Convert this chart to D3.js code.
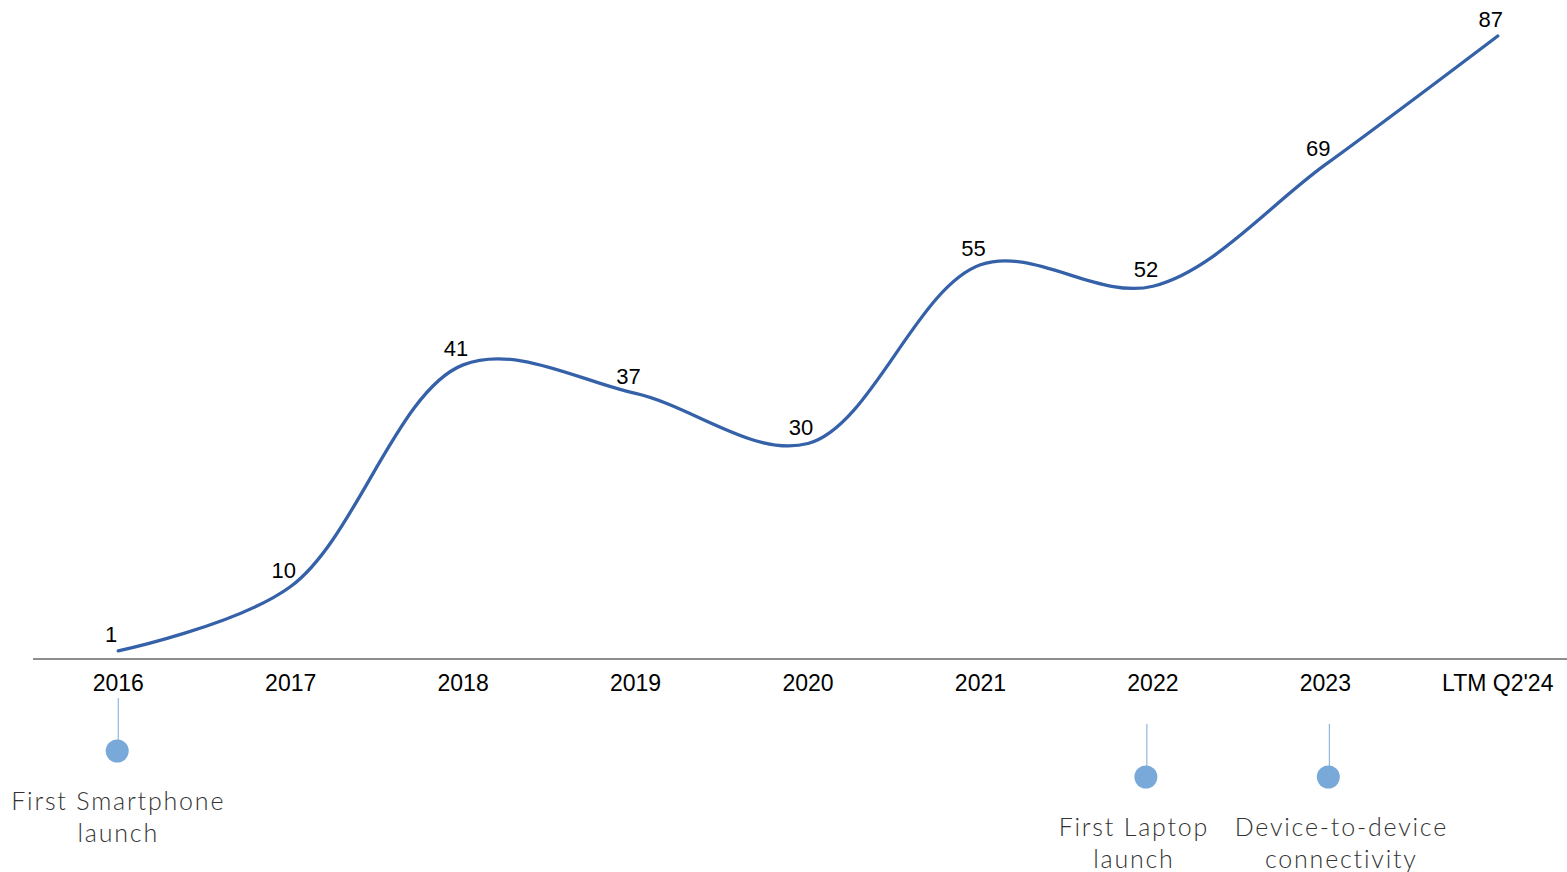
<!DOCTYPE html>
<html>
<head>
<meta charset="utf-8">
<script src="https://cdn.jsdelivr.net/npm/d3@7"></script>
<style>
  body { margin: 0; background: #fff; }
  svg { display: block; }
  .axis path { stroke: #1a1a1a; }
  .axis text { font-family: "Liberation Sans", Arial, sans-serif; font-size: 23px; fill: #000; }
</style>
</head>
<body>
<div id="chart"></div>
<script>
var categories = ['2016', '2017', '2018', '2019', '2020', '2021', '2022', '2023', "LTM Q2'24"];
var values = [1, 10, 41, 37, 30, 55, 52, 69, 87];

// milestones hung under the axis
var milestoneCats = ['2016', '2022', '2023'];
var milestoneText = [['First Smartphone', 'launch'], ['First Laptop', 'launch'], ['Device-to-device', 'connectivity']];

var width = 1567, height = 872;

var svg = d3.select('#chart')
  .append('svg')
  .attr('width', width)
  .attr('height', height);

var x = d3.scaleBand()
  .domain(categories)
  .range([32, 1584]);

var y = d3.scaleLinear()
  .domain([0, 87])
  .range([658, 36]);

var cx = function(c) { return x(c) + x.bandwidth() / 2; };

// axis
var axis = svg.append('g')
  .attr('class', 'axis')
  .attr('transform', 'translate(0,659)')
  .call(d3.axisBottom(x).tickSize(0).tickPadding(16));
axis.select('.domain').attr('d', 'M33,0H1567');

// smooth line, like the excel one
var line = d3.line()
  .x(function(d, i) { return cx(categories[i]); })
  .y(function(d) { return y(d); })
  .curve(d3.curveCatmullRom.alpha(0.5));

svg.append('path')
  .datum(values)
  .attr('fill', 'none')
  .attr('stroke', '#3561a9')
  .attr('stroke-width', 3.3)
  .attr('stroke-linecap', 'round')
  .attr('d', line);

svg.append('g').selectAll('text')
  .data(values)
  .enter()
  .append('text')
  .attr('x', function(d, i) { return cx(categories[i]) - 7; })
  .attr('y', function(d) { return y(d) - 9; })
  .attr('text-anchor', 'middle')
  .attr('font-family', '"Liberation Sans", Arial, sans-serif')
  .attr('font-size', 22)
  .attr('fill', '#000')
  .text(function(d) { return d; });

// milestones
var ms = svg.append('g').selectAll('g')
  .data(milestoneCats)
  .enter()
  .append('g')
  .attr('transform', function(c, i) {
    var shift = i === 0 ? 0 : (i === 1 ? -6 : 4);
    return 'translate(' + (cx(c) + shift) + ',0)';
  });

var stemTop = function(i) { return i === 0 ? 698 : 724; };

ms.append('line')
  .attr('x1', 0).attr('x2', 0)
  .attr('y1', function(c, i) { return stemTop(i); })
  .attr('y2', function(c, i) { return stemTop(i) + 42; })
  .attr('stroke', '#7aaad8')
  .attr('stroke-width', 1);

ms.append('circle')
  .attr('cx', -1)
  .attr('cy', function(c, i) { return stemTop(i) + 53; })
  .attr('r', 11.5)
  .attr('fill', '#78a9d9');

ms.append('text')
  .attr('text-anchor', 'middle')
  .attr('font-family', 'Lato, "Open Sans", sans-serif')
  .attr('font-weight', 300)
  .attr('font-size', 25)
  .attr('letter-spacing', 1.8)
  .attr('fill', '#333')
  .each(function(c, i) {
    var t = d3.select(this);
    var dx = i === 0 ? 0 : (i === 1 ? -13 : 12);
    milestoneText[i].forEach(function(s, k) {
      t.append('tspan')
        .attr('x', dx)
        .attr('y', stemTop(i) + 112 + k * 32)
        .text(s);
    });
  });
</script>
</body>
</html>
